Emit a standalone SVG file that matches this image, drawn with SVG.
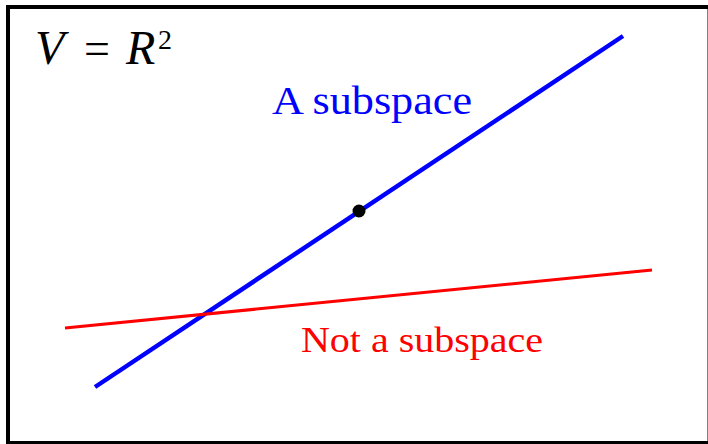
<svg xmlns="http://www.w3.org/2000/svg" width="708" height="444" viewBox="0 0 708 444">
<style>
.t{font-family:"Liberation Serif","DejaVu Serif",serif;}
</style>
<rect x="0" y="0" width="708" height="444" fill="#fff"/>
<rect x="8" y="7" width="701.5" height="436" fill="none" stroke="#000" stroke-width="4"/>
<g id="connectors">
<line x1="95" y1="387" x2="623" y2="36" stroke="#0000ff" stroke-width="4.5"/>
<line x1="65" y1="328" x2="652" y2="270" stroke="#ff0000" stroke-width="3"/>
</g>
<g id="origin"><circle cx="359" cy="211" r="6.5" fill="#000"/></g>
<g id="title">
<text class="t" x="35" y="64" font-size="48" font-style="italic">V</text>
<text class="t" x="84" y="64" font-size="46">=</text>
<text class="t" x="126" y="64" font-size="48" font-style="italic">R</text>
<text class="t" x="158" y="49" font-size="28">2</text>
</g>
<g id="label-sub"><text class="t" x="272" y="114" font-size="40" fill="#0000ff" textLength="200" lengthAdjust="spacingAndGlyphs">A subspace</text></g>
<g id="label-notsub"><text class="t" x="301" y="352" font-size="35" fill="#ff0000" textLength="242" lengthAdjust="spacingAndGlyphs">Not a subspace</text></g>
</svg>
